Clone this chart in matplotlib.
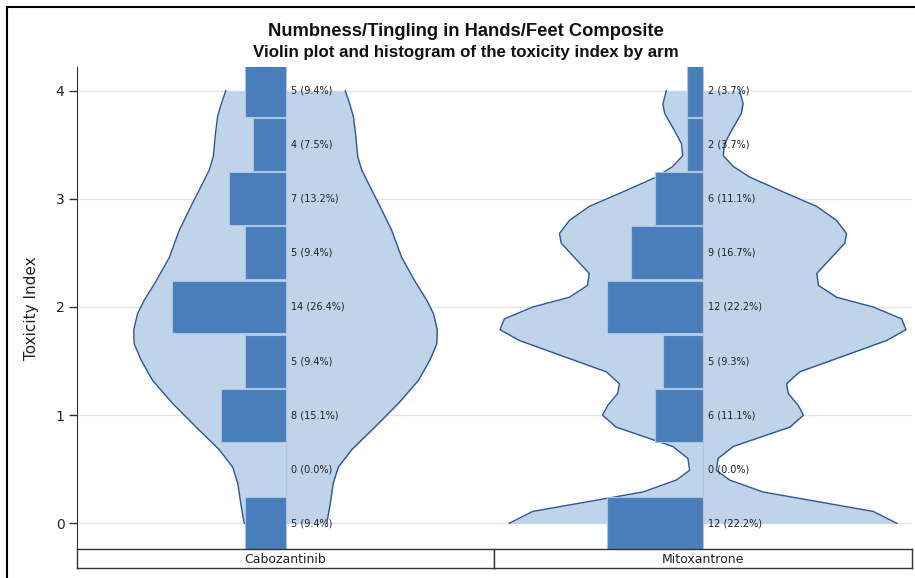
import matplotlib

matplotlib.use("Agg")
import matplotlib.pyplot as plt
from matplotlib.lines import Line2D
import numpy as np

# toxicity index levels (bin centres, bins are 0.5 wide)
LEVELS = [0.0, 0.5, 1.0, 1.5, 2.0, 2.5, 3.0, 3.5, 4.0]
ARMS = ["Cabozantinib", "Mitoxantrone"]
CABO_COUNTS = [5, 0, 8, 5, 14, 5, 7, 4, 5]
MITO_COUNTS = [12, 0, 6, 5, 12, 9, 6, 2, 2]

# violin outline: toxicity index vs half width (in % units)
CABO_VIOLIN_Y = [0.00, 0.18, 0.37, 0.52, 0.68, 0.89, 1.11, 1.32, 1.51, 1.66, 1.79, 1.94,
                 2.06, 2.24, 2.46, 2.71, 2.93, 3.11, 3.27, 3.39, 3.60, 3.76, 3.87, 4.00]
CABO_VIOLIN_HW = [9.6, 10.4, 11.1, 12.3, 15.4, 20.8, 26.3, 30.9, 33.6, 35.2, 35.3, 34.4,
                  32.9, 30.1, 27.0, 24.7, 22.0, 19.7, 17.7, 16.8, 16.3, 15.8, 15.0, 13.9]
MITO_VIOLIN_Y = [0.00, 0.11, 0.29, 0.40, 0.49, 0.60, 0.71, 0.89, 1.00, 1.09, 1.20, 1.29,
                 1.40, 1.69, 1.79, 1.89, 2.00, 2.09, 2.20, 2.31, 2.59, 2.68, 2.80, 2.93,
                 3.05, 3.20, 3.30, 3.40, 3.51, 3.63, 3.79, 3.88, 4.00]
MITO_VIOLIN_HW = [45.0, 39.5, 13.9, 6.2, 3.1, 3.5, 7.0, 20.2, 23.3, 22.1, 19.8, 19.4,
                  22.4, 42.6, 47.1, 46.1, 39.5, 31.0, 26.8, 26.4, 32.9, 33.3, 31.0, 26.4,
                  19.4, 10.9, 7.0, 4.7, 5.0, 6.6, 8.9, 9.3, 8.5]

Y_TICKS = [0, 1, 2, 3, 4]

BAR_COLOR = "#4a7ebb"
BAR_EDGE = "#aac4e4"
VIOLIN_FILL = "#bfd3e9"
VIOLIN_LINE = "#2d5597"
GRID_COLOR = "#e4e4e4"
AXIS_COLOR = "#333333"

FIG_W, FIG_H = 915, 578


def fx(px):
    return px / FIG_W


def fy(py):
    return 1 - py / FIG_H


def draw_arm(ax, counts, vy, vhw):
    vy = np.asarray(vy)
    vhw = np.asarray(vhw)
    ax.fill_betweenx(vy, -vhw, vhw, color=VIOLIN_FILL, lw=0, zorder=1)
    ax.plot(-vhw, vy, color=VIOLIN_LINE, lw=1.0, zorder=2)
    ax.plot(vhw, vy, color=VIOLIN_LINE, lw=1.0, zorder=2)

    total = sum(counts)
    pct = [100.0 * c / total for c in counts]
    ax.barh(LEVELS, [-p for p in pct], height=0.49, left=0, color=BAR_COLOR,
            edgecolor=BAR_EDGE, linewidth=0.8, zorder=3)
    for lv, c, p in zip(LEVELS, counts, pct):
        ax.text(1.2, lv, f"{c} ({p:.1f}%)", fontsize=7, va="center", ha="left",
                color="#222222", zorder=4)

    ax.set_xlim(-48.5, 48.5)
    ax.set_ylim(-0.2375, 4.219)
    ax.set_yticks(Y_TICKS)
    ax.set_xticks([])
    ax.grid(axis="y", color=GRID_COLOR, lw=1.0, zorder=0)
    ax.set_axisbelow(True)
    for s in ["top", "right", "bottom", "left"]:
        ax.spines[s].set_visible(False)


def main():
    fig = plt.figure(figsize=(FIG_W / 100, FIG_H / 100), dpi=100)

    panels = [(77, 494), (494, 912)]
    top, bottom, strip_bottom = 67, 549, 568
    data = [(CABO_COUNTS, CABO_VIOLIN_Y, CABO_VIOLIN_HW),
            (MITO_COUNTS, MITO_VIOLIN_Y, MITO_VIOLIN_HW)]

    axes = []
    for (x0, x1), arm, (counts, vy, vhw) in zip(panels, ARMS, data):
        ax = fig.add_axes([fx(x0), fy(bottom), (x1 - x0) / FIG_W, (bottom - top) / FIG_H])
        draw_arm(ax, counts, vy, vhw)
        axes.append(ax)

        strip = fig.add_axes([fx(x0), fy(strip_bottom), (x1 - x0) / FIG_W,
                              (strip_bottom - bottom) / FIG_H])
        strip.set_xticks([])
        strip.set_yticks([])
        for s in strip.spines.values():
            s.set_color(AXIS_COLOR)
            s.set_linewidth(1.0)
        strip.text(0.5, 0.45, arm, ha="center", va="center", fontsize=9,
                   color="#222222", transform=strip.transAxes)

    left = axes[0]
    left.spines["left"].set_visible(True)
    left.spines["left"].set_color(AXIS_COLOR)
    left.tick_params(axis="y", length=6, width=1, color=AXIS_COLOR, labelsize=10,
                     labelcolor="#222222", pad=3)
    left.set_ylabel("Toxicity Index", fontsize=11, color="#222222", labelpad=12)
    axes[1].tick_params(axis="y", left=False, labelleft=False)

    fig.text(fx(466), fy(36), "Numbness/Tingling in Hands/Feet Composite",
             ha="center", va="baseline", fontsize=13.2, fontweight="bold",
             family="Liberation Sans", color="#111111")
    fig.text(fx(466), fy(57), "Violin plot and histogram of the toxicity index by arm",
             ha="center", va="baseline", fontsize=12.2, fontweight="bold",
             family="Liberation Sans", color="#111111")

    # outer graph frame (only top and left are inside the picture)
    fig.add_artist(Line2D([fx(7), 1.0], [fy(7), fy(7)], color="black", lw=1.5))
    fig.add_artist(Line2D([fx(7), fx(7)], [fy(7), 0.0], color="black", lw=1.5))

    fig.savefig("out.png", dpi=100)
    plt.close(fig)


if __name__ == "__main__":
    main()
